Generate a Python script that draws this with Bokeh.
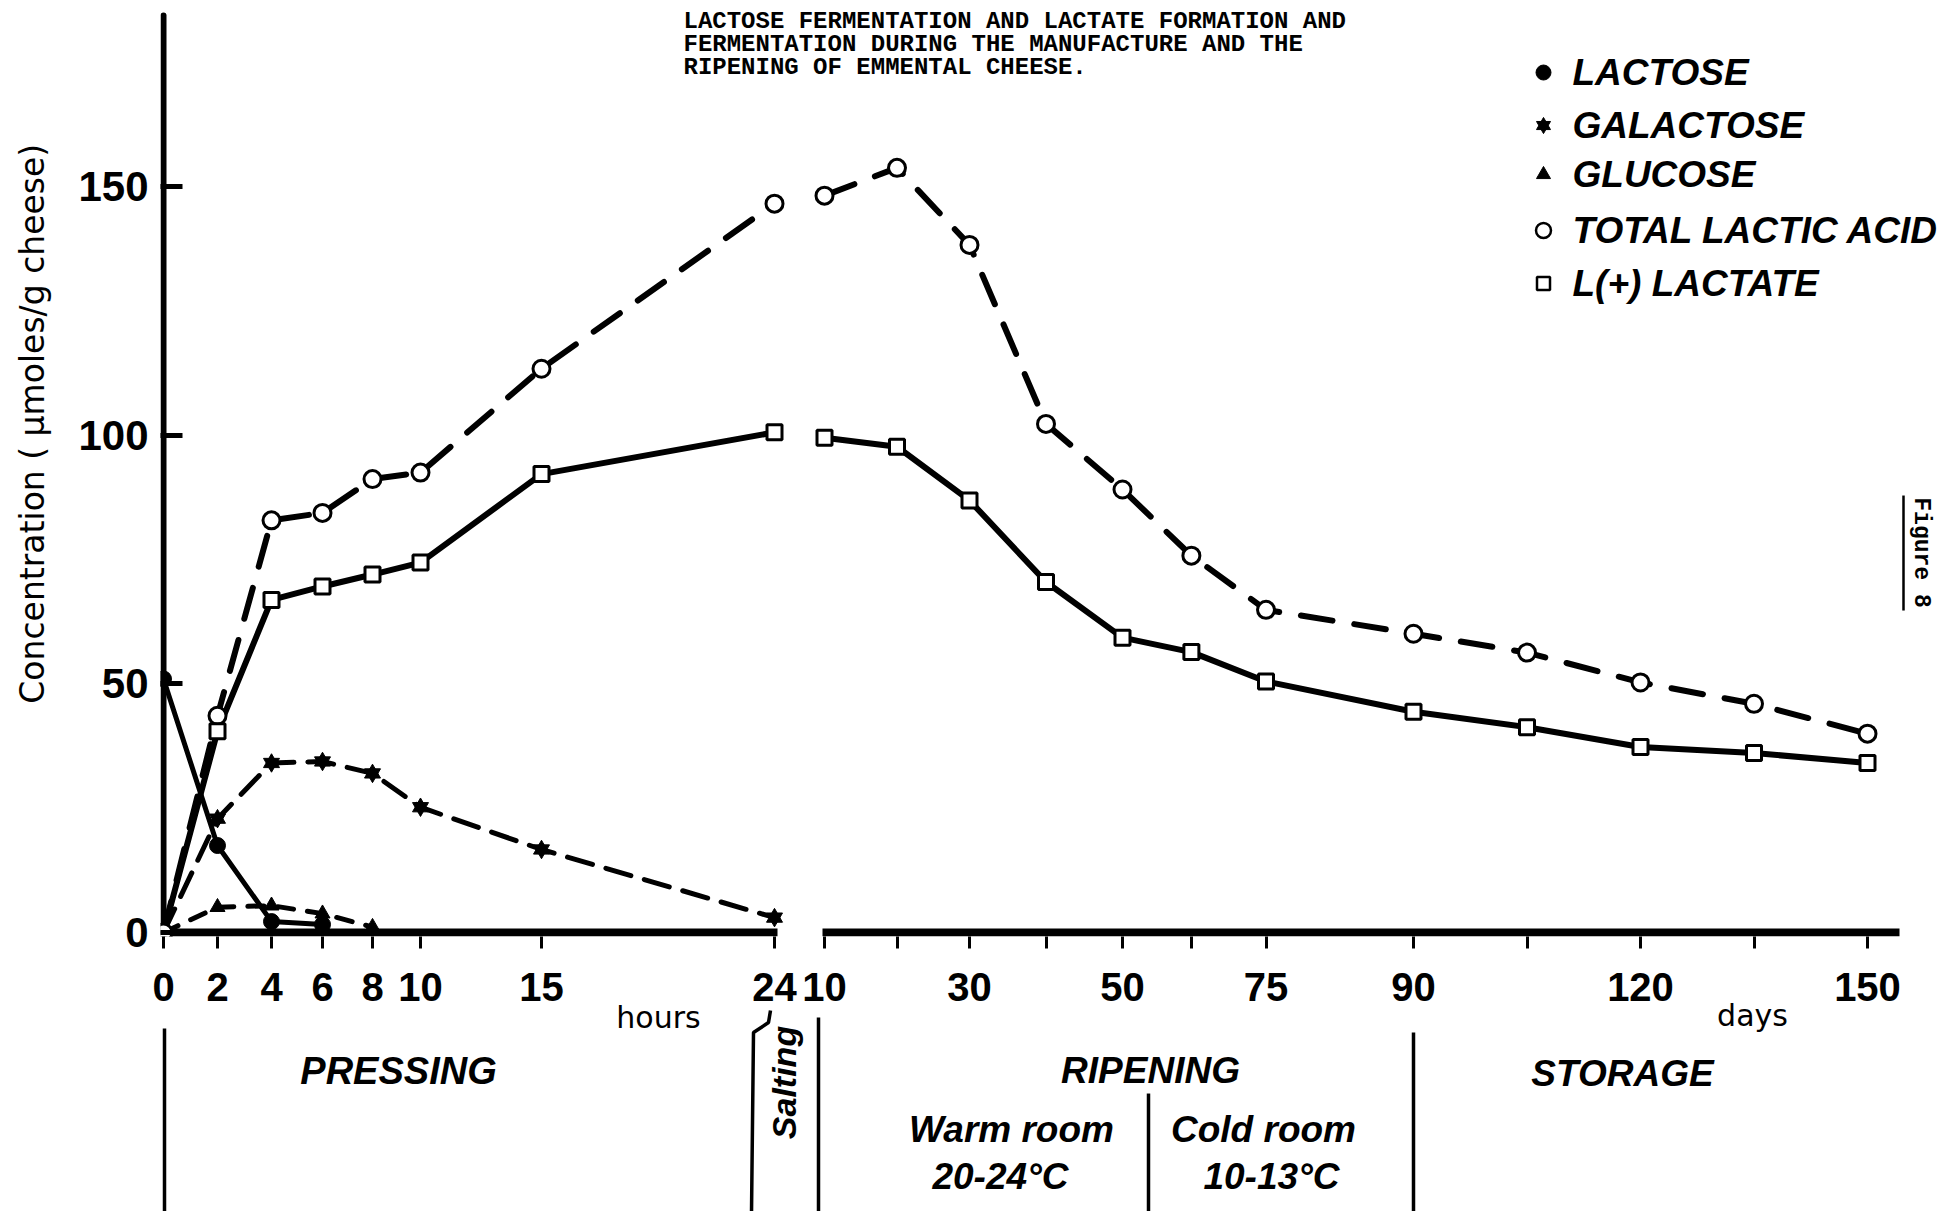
import math
import numpy as np
from bokeh.plotting import figure
from bokeh.models import Range1d, FixedTicker, AllLabels
from bokeh.core.properties import value
from bokeh.embed import file_html
from bokeh.resources import INLINE

# ---------------- data ----------------
HOURS = [0, 2, 4, 6, 8, 10, 15, 24]
DAYS = [10, 20, 30, 40, 50, 62, 75, 90, 105, 120, 135, 150]
TOTAL_LACTIC_H = [0, 43.6, 82.9, 84.4, 91.2, 92.5, 113.4, 146.6]
TOTAL_LACTIC_D = [148.2, 153.8, 138.3, 102.3, 89.1, 75.8, 64.9, 60.1, 56.3, 50.3, 46.0, 40.0]
L_LACTATE_H = [0, 40.5, 66.9, 69.6, 72.0, 74.4, 92.2, 100.6]
L_LACTATE_D = [99.5, 97.7, 86.9, 70.5, 59.3, 56.4, 50.5, 44.4, 41.3, 37.3, 36.1, 34.1]
LACTOSE_T = [0, 2, 4, 6]
LACTOSE = [51.0, 17.5, 2.2, 1.6]
GALACTOSE = [0, 22.9, 34.1, 34.4, 32.0, 25.2, 16.7, 3.0]
GLUCOSE_T = [0, 2, 4, 6, 8]
GLUCOSE = [0, 5.1, 5.4, 3.8, 1.1]

HOUR_TICKS = [0, 2, 4, 6, 8, 10, 15, 24]
DAY_TICKS = [10, 30, 50, 75, 90, 120, 150]
DAY_MINOR = [20, 40, 62, 105, 135]
Y_TICKS = [0, 50, 100, 150]
LEGEND = ["LACTOSE", "GALACTOSE", "GLUCOSE", "TOTAL LACTIC ACID", "L(+) LACTATE"]
CAPTION = ["LACTOSE FERMENTATION AND LACTATE FORMATION AND",
           "FERMENTATION DURING THE MANUFACTURE AND THE",
           "RIPENING OF EMMENTAL CHEESE."]

# broken, non-uniform time axis as drawn (axis units at the labelled ticks)
HOUR_AXIS = [0, 54, 108, 159, 209, 257, 378, 611]
DAY_AXIS = [661, 806, 959, 1102.5, 1250, 1477, 1704]


def xh(h):
    return [float(v) for v in np.interp(h, HOUR_TICKS, HOUR_AXIS)]


def xd(d):
    return [float(v) for v in np.interp(d, DAY_TICKS, DAY_AXIS)]


# ---------------- layout helpers ----------------
W, H = 1947, 1211
LEFT = 160
FRAME_BOTTOM = 936
PXU = 4.972          # pixels per concentration unit
X0, Y0 = 163, 932    # page position of the origin


def ux(px):
    return px - X0


def vy(py):
    return (Y0 - py) / PXU


p = figure(width=W, height=H, output_backend="svg", toolbar_location=None,
           x_range=Range1d(-3, W - LEFT - 3),
           y_range=Range1d(-0.8, -0.8 + FRAME_BOTTOM / PXU),
           min_border_left=LEFT, min_border_bottom=H - FRAME_BOTTOM,
           min_border_top=0, min_border_right=0)
p.outline_line_color = None
p.grid.visible = False
p.background_fill_color = "white"
p.border_fill_color = "white"

TICK_FONT = "Liberation Sans"

# x axis: hours then days
major_pos = xh(HOUR_TICKS) + xd(DAY_TICKS)
major_lab = [str(t) for t in HOUR_TICKS] + [str(t) for t in DAY_TICKS]
xa = p.xaxis[0]
xa.ticker = FixedTicker(ticks=major_pos, minor_ticks=xd(DAY_MINOR))
xa.major_label_overrides = {pos: lab for pos, lab in zip(major_pos, major_lab)}
xa.major_label_policy = AllLabels()
xa.axis_line_color = None
xa.major_tick_in = 0
xa.major_tick_out = 12
xa.minor_tick_in = 0
xa.minor_tick_out = 12
xa.major_tick_line_width = 3
xa.minor_tick_line_width = 3
xa.major_tick_line_color = "black"
xa.minor_tick_line_color = "black"
xa.major_label_standoff = 24
xa.major_label_text_font = TICK_FONT
xa.major_label_text_font_size = "40px"
xa.major_label_text_font_style = "bold"
xa.major_label_text_color = "black"

ya = p.yaxis[0]
ya.ticker = FixedTicker(ticks=Y_TICKS)
ya.axis_line_color = None
ya.major_tick_in = 22
ya.major_tick_out = 0
ya.major_tick_line_width = 5
ya.major_tick_line_color = "black"
ya.minor_tick_line_color = None
ya.major_label_standoff = 12
ya.major_label_text_font = TICK_FONT
ya.major_label_text_font_size = "42px"
ya.major_label_text_font_style = "bold"
ya.major_label_text_color = "black"

# axis lines (broken x axis)
p.segment(x0=[0], y0=[-0.8], x1=[0], y1=[vy(15)], line_width=6, line_color="black", line_cap="round")
p.segment(x0=[xh([0])[0], xd([10])[0] - 2], y0=[0, 0], x1=[xh([24])[0] + 3, ux(1899)], y1=[0, 0],
          line_width=8, line_color="black")

# ---------------- series lines ----------------
p.line(xh(HOURS), TOTAL_LACTIC_H, line_width=6, line_color="black", line_dash="32 22", line_cap="round")
p.line(xd(DAYS), TOTAL_LACTIC_D, line_width=6, line_color="black", line_dash="32 22", line_cap="round")
p.line(xh(HOURS), L_LACTATE_H, line_width=6, line_color="black", line_cap="round")
p.line(xd(DAYS), L_LACTATE_D, line_width=6, line_color="black", line_cap="round")
p.line(xh(LACTOSE_T), LACTOSE, line_width=5, line_color="black", line_cap="round")
p.line(xh(HOURS), GALACTOSE, line_width=5, line_color="black", line_dash="26 14", line_cap="round")
p.line(xh(GLUCOSE_T), GLUCOSE, line_width=5, line_color="black", line_dash="16 14", line_cap="round")

# ---------------- markers ----------------
p.scatter(xh(HOURS), TOTAL_LACTIC_H, marker="circle", size=17, fill_color="white", line_color="black", line_width=3)
p.scatter(xd(DAYS), TOTAL_LACTIC_D, marker="circle", size=17, fill_color="white", line_color="black", line_width=3)
p.scatter(xh(HOURS[1:]), L_LACTATE_H[1:], marker="square", size=15, fill_color="white", line_color="black", line_width=3)
p.scatter(xd(DAYS), L_LACTATE_D, marker="square", size=15, fill_color="white", line_color="black", line_width=3)
p.scatter(xh(LACTOSE_T), LACTOSE, marker="circle", size=16, color="black")
for m in ("triangle", "inverted_triangle"):
    p.scatter(xh(HOURS[1:]), GALACTOSE[1:], marker=m, size=16, color="black")
p.scatter(xh(GLUCOSE_T[1:]), GLUCOSE[1:], marker="triangle", size=15, color="black")

# ---------------- legend (top right) ----------------
leg_y = [vy(py) for py in (72, 125, 174, 230, 283)]
lx = ux(1543)
p.scatter([lx], [leg_y[0]], marker="circle", size=15, color="black")
for m in ("triangle", "inverted_triangle"):
    p.scatter([lx], [leg_y[1]], marker=m, size=14, color="black")
p.scatter([lx], [leg_y[2]], marker="triangle", size=14, color="black")
p.scatter([lx], [leg_y[3]], marker="circle", size=15, fill_color="white", line_color="black", line_width=2.5)
p.scatter([lx], [leg_y[4]], marker="square", size=13, fill_color="white", line_color="black", line_width=2.5)
p.text([ux(1572)] * 5, leg_y, text=LEGEND, text_font=value("Liberation Sans"),
       text_font_size="37px", text_font_style="bold italic", text_color="black",
       text_align="left", text_baseline="middle")

# ---------------- caption ----------------
p.text([ux(683)] * 3, [vy(21), vy(44), vy(67)], text=CAPTION, text_font=value("Liberation Mono"),
       text_font_size="24px", text_font_style="bold", text_color="black",
       text_align="left", text_baseline="alphabetic")

# Figure 8 (rotated, underlined)
p.text([ux(1920)], [vy(552)], text=["Figure 8"], angle=-math.pi / 2, text_font=value("Liberation Mono"),
       text_font_size="23px", text_font_style="bold", text_color="black",
       text_align="center", text_baseline="middle")
p.segment(x0=[ux(1903)], y0=[vy(495)], x1=[ux(1903)], y1=[vy(610)], line_width=2.5, line_color="black")

# ---------------- phase dividers below the axis ----------------
BOT = H + 2
div_x = [164, 818, 1148, 1413]
div_top = [1028, 1017, 1093, 1032]
p.segment(x0=[ux(x) for x in div_x], y0=[vy(t) for t in div_top],
          x1=[ux(x) for x in div_x], y1=[vy(BOT)] * 4,
          line_width=3.5, line_color="black", level="overlay")
br_x = [770, 768, 753, 751]
br_y = [1010, 1022, 1032, BOT]
p.line([ux(x) for x in br_x], [vy(y) for y in br_y], line_width=3.5, line_color="black", level="overlay")


def lab(text, px, py, size="37px", style="bold italic", font="Liberation Sans", angle=0.0):
    p.text([ux(px)], [vy(py)], text=[text], text_font=value(font), text_font_size=size,
           text_font_style=style, text_color="black", text_align="center",
           text_baseline="middle", angle=angle, level="overlay")


lab("PRESSING", 398, 1070, size="38px")
lab("RIPENING", 1150, 1070)
lab("STORAGE", 1622, 1073)
lab("Warm room", 1011, 1129)
lab("20-24°C", 1000, 1176)
lab("Cold room", 1263, 1129)
lab("10-13°C", 1271, 1176)
lab("Salting", 783, 1082, size="34px", angle=math.pi / 2)
lab("hours", 658, 1017, size="30px", style="normal", font="DejaVu Sans")
lab("days", 1752, 1015, size="30px", style="normal", font="DejaVu Sans")
lab("Concentration  ( µmoles/g cheese)", 32, 418, size="33px", style="normal", font="DejaVu Sans",
    angle=math.pi / 2)

open("out.html", "w").write(file_html(p, INLINE))
